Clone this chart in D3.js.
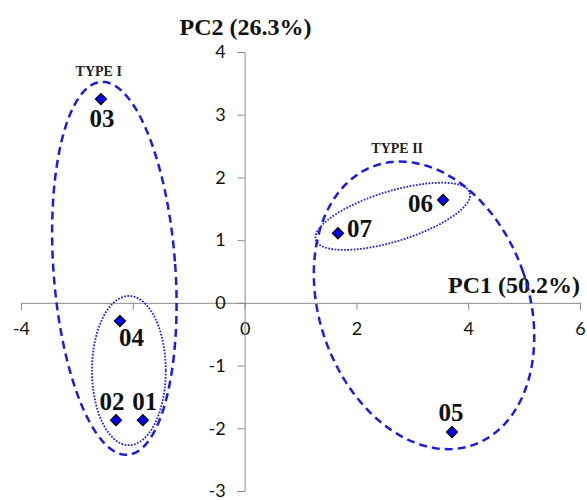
<!DOCTYPE html>
<html>
<head>
<meta charset="utf-8">
<script src="https://cdn.jsdelivr.net/npm/d3@7"></script>
<style>
  html, body { margin: 0; padding: 0; background: #fff; }
  svg { display: block; }
</style>
</head>
<body>
<svg id="chart" width="587" height="500"></svg>
<script>
// ---- data ----
const sampleNames = ["01", "02", "03", "04", "05", "06", "07"];
const pc1Values = [-1.82, -2.30, -2.57, -2.23, 3.71, 3.55, 1.67];
const pc2Values = [-1.87, -1.87, 3.25, -0.29, -2.06, 1.64, 1.11];
const xTickValues = [-4, -2, 0, 2, 4, 6];
const xTickLabels = ["-4", "", "0", "2", "4", "6"]; // "-2" is covered by the "04" label in the original
const yTickValues = [-3, -2, -1, 0, 1, 2, 3, 4];
const yTickLabels = ["-3", "-2", "-1", "0", "1", "2", "3", "4"];
const xAxisTitle = "PC1 (50.2%)";
const yAxisTitle = "PC2 (26.3%)";
const groupNames = ["TYPE I", "TYPE II"];
const groupLabelX = [-2.61, 2.73];
const groupLabelY = [3.62, 2.39];
// ellipses (data units): centre, semi-axes, rotation
const ellipseCx = [-2.33, -2.07, 3.21, 2.65];
const ellipseCy = [0.55, -1.08, -0.04, 1.38];
const ellipseRx = [1.09, 0.66, 1.87, 1.44];
const ellipseRy = [2.98, 1.19, 2.36, 0.40];
const ellipseAngle = [-4.1, 0, -19.5, -17];
const ellipseKind = ["dashed", "dotted", "dashed", "dotted"];

// ---- layout ----
const svg = d3.select("#chart");
const x = d3.scaleLinear().domain([-4, 6]).range([21, 580]);
const y = d3.scaleLinear().domain([-3, 4]).range([491, 52]);

// label placement (pixels relative to point)
const labelPlace = {
  "01": {dx: 2, dy: -10, anchor: "middle"},
  "02": {dx: -4, dy: -10, anchor: "middle"},
  "03": {dx: 1, dy: 28, anchor: "middle"},
  "04": {dx: -1, dy: 25, anchor: "start"},
  "05": {dx: -1, dy: -11, anchor: "middle"},
  "06": {dx: -10, dy: 12, anchor: "end"},
  "07": {dx: 9, dy: 4, anchor: "start"}
};

const axisColor = "#8c8c8c";
const tickFont = "Lato, 'Open Sans', sans-serif";
const serif = "'Liberation Serif', 'DejaVu Serif', serif";

// x axis
const xAxisG = svg.append("g")
  .attr("transform", `translate(0,${y(0)})`)
  .call(d3.axisBottom(x).tickValues(xTickValues).tickSize(7).tickPadding(12)
    .tickFormat((d, i) => xTickLabels[i]));
xAxisG.select(".domain").attr("stroke", axisColor);
xAxisG.selectAll(".tick line").attr("stroke", axisColor);
xAxisG.selectAll(".tick text")
  .attr("font-family", tickFont).attr("font-size", 18).attr("fill", "#111");

// y axis
const yAxisG = svg.append("g")
  .attr("transform", `translate(${x(0)},0)`)
  .call(d3.axisLeft(y).tickValues(yTickValues).tickSize(7).tickPadding(12)
    .tickFormat((d, i) => yTickLabels[i]));
yAxisG.select(".domain").attr("stroke", axisColor);
yAxisG.selectAll(".tick line").attr("stroke", axisColor);
yAxisG.selectAll(".tick text")
  .attr("font-family", tickFont).attr("font-size", 18).attr("fill", "#111");

// axis titles
svg.append("text")
  .attr("x", x(0) + 1).attr("y", 35)
  .attr("text-anchor", "middle")
  .attr("font-family", serif).attr("font-weight", "bold").attr("font-size", 24)
  .attr("fill", "#111")
  .text(yAxisTitle);
svg.append("text")
  .attr("x", x(6)).attr("y", y(0) - 10)
  .attr("text-anchor", "end")
  .attr("font-family", serif).attr("font-weight", "bold").attr("font-size", 24)
  .attr("fill", "#111")
  .text(xAxisTitle);

// ellipses
const ellipseColor = "#1c1ce0";
const line = d3.line().curve(d3.curveLinearClosed);
ellipseCx.forEach((cx, i) => {
  const px = x(cx), py = y(ellipseCy[i]);
  const a = x(cx + ellipseRx[i]) - x(cx);
  const b = y(ellipseCy[i]) - y(ellipseCy[i] + ellipseRy[i]);
  const th = ellipseAngle[i] * Math.PI / 180;
  const pts = d3.range(0, 360, 2).map(deg => {
    const t = deg * Math.PI / 180;
    const u = a * Math.cos(t), v = b * Math.sin(t);
    return [px + u * Math.cos(th) - v * Math.sin(th), py + u * Math.sin(th) + v * Math.cos(th)];
  });
  const dashed = ellipseKind[i] === "dashed";
  svg.append("path")
    .attr("d", line(pts))
    .attr("fill", "none")
    .attr("stroke", ellipseColor)
    .attr("stroke-width", dashed ? 2.5 : 1.8)
    .attr("stroke-dasharray", dashed ? "8,5" : "1.7,1.5");
});

// group labels
groupNames.forEach((g, i) => {
  svg.append("text")
    .attr("x", x(groupLabelX[i])).attr("y", y(groupLabelY[i]))
    .attr("text-anchor", "middle")
    .attr("font-family", serif).attr("font-weight", "bold").attr("font-size", 14)
    .attr("fill", "#222")
    .text(g);
});

// points
const diamond = d3.symbol().type(d3.symbolSquare).size(60);
sampleNames.forEach((name, i) => {
  const px = x(pc1Values[i]), py = y(pc2Values[i]);
  svg.append("path")
    .attr("d", diamond())
    .attr("transform", `translate(${px},${py}) rotate(45)`)
    .attr("fill", "#0000ff")
    .attr("stroke", "#000")
    .attr("stroke-width", 1.3);
  const p = labelPlace[name];
  svg.append("text")
    .attr("x", px + p.dx).attr("y", py + p.dy)
    .attr("text-anchor", p.anchor)
    .attr("font-family", serif).attr("font-weight", "bold").attr("font-size", 25)
    .attr("fill", "#111")
    .text(name);
});
</script>
</body>
</html>
